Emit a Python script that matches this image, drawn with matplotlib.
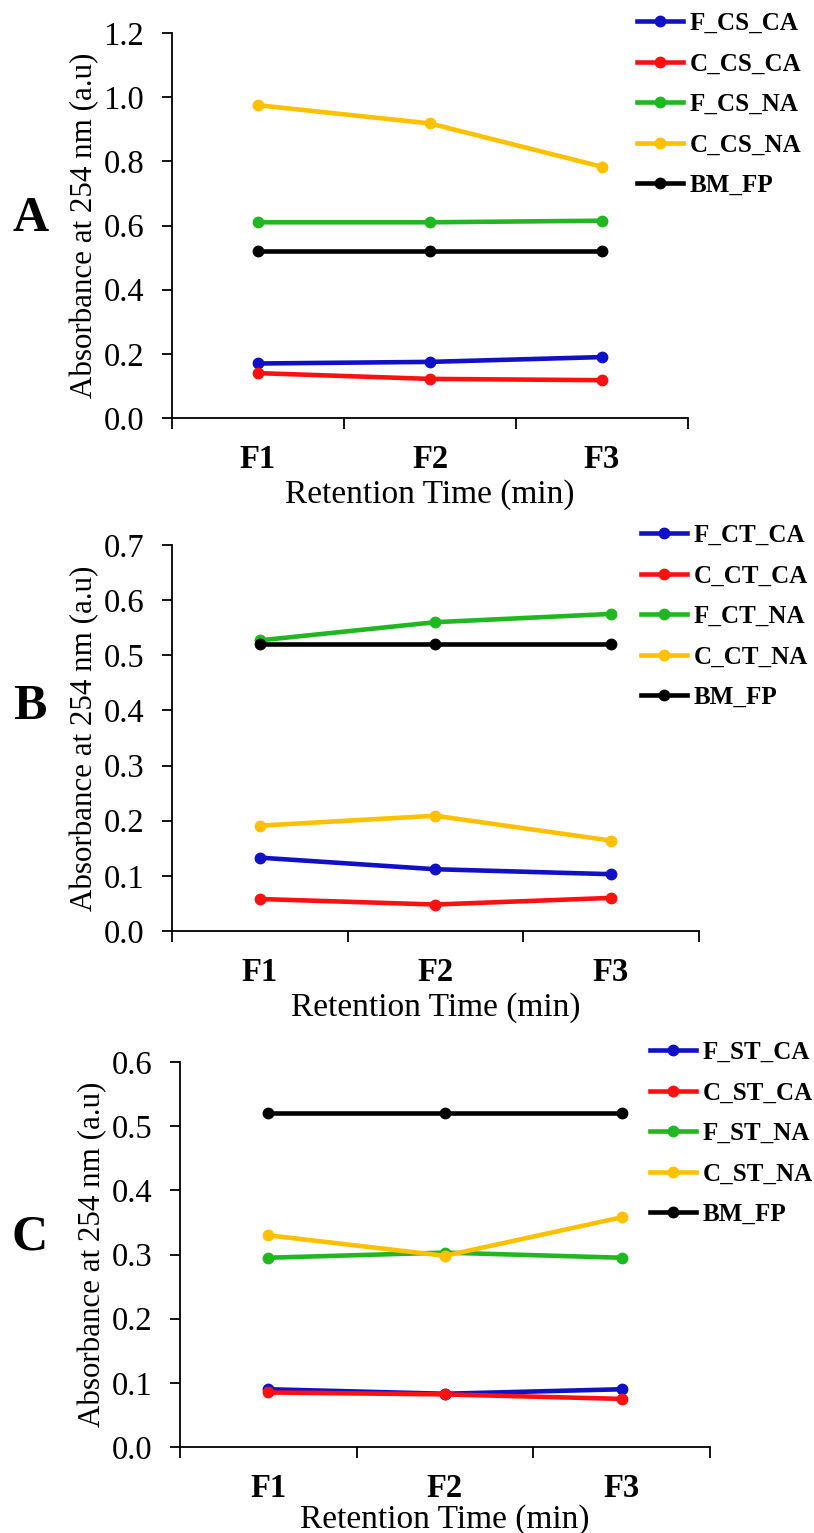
import numpy as np
import matplotlib.pyplot as plt

plt.rcParams['font.family'] = ['Liberation Serif', 'DejaVu Serif']

# data
fractions = ['F1', 'F2', 'F3']
bm_fp = [0.52, 0.52, 0.52]

# panel A (CS)
a_names = ['F_CS_CA', 'C_CS_CA', 'F_CS_NA', 'C_CS_NA', 'BM_FP']
a_f_ca = [0.170, 0.175, 0.190]
a_c_ca = [0.140, 0.122, 0.118]
a_f_na = [0.610, 0.610, 0.615]
a_c_na = [0.975, 0.918, 0.783]

# panel B (CT)
b_names = ['F_CT_CA', 'C_CT_CA', 'F_CT_NA', 'C_CT_NA', 'BM_FP']
b_f_ca = [0.133, 0.112, 0.103]
b_c_ca = [0.058, 0.048, 0.060]
b_f_na = [0.527, 0.560, 0.575]
b_c_na = [0.191, 0.209, 0.164]

# panel C (ST)
c_names = ['F_ST_CA', 'C_ST_CA', 'F_ST_NA', 'C_ST_NA', 'BM_FP']
c_f_ca = [0.090, 0.083, 0.090]
c_c_ca = [0.085, 0.082, 0.075]
c_f_na = [0.295, 0.303, 0.295]
c_c_na = [0.330, 0.298, 0.358]

colors = ['#1010C8', '#FF1010', '#20B820', '#FFC000', '#000000']

panels = [
    ('A', a_names, [a_f_ca, a_c_ca, a_f_na, a_c_na, bm_fp], 1.2, 0.2,
     [0.2113, 0.7273, 0.634, 0.2512], 0.857, 0.770, 0.9987, 2.5),
    ('B', b_names, [b_f_ca, b_c_ca, b_f_na, b_c_na, bm_fp], 0.7, 0.1,
     [0.2113, 0.3927, 0.647, 0.2518], 0.539, 0.775, 0.6647, 2.5),
    ('C', c_names, [c_f_ca, c_c_ca, c_f_na, c_c_na, bm_fp], 0.6, 0.1,
     [0.2211, 0.0561, 0.651, 0.2511], 0.193, 0.786, 0.3275, 0.0),
]

fig = plt.figure(figsize=(8.14, 15.33), dpi=100)
x = np.arange(len(fractions)) + 0.5

for letter, names, series, ymax, step, rect, ly, legx, legy, xpad in panels:
    ax = fig.add_axes(rect)
    for vals, name, col in zip(series, names, colors):
        ax.plot(x, vals, color=col, lw=3.3, marker='o', ms=7.5, label=name)
    ax.set_xlim(0, 3)
    ax.set_ylim(0, ymax)
    yt = np.arange(0, ymax + step / 2, step)
    ax.set_yticks(yt)
    ax.set_yticklabels(['%.1f' % v for v in yt])
    ax.set_xticks([0, 1, 2, 3])
    ax.set_xticklabels([])
    ax.set_xticks(x, minor=True)
    ax.set_xticklabels(fractions, minor=True, fontsize=23.5, fontweight='bold')
    ax.tick_params(axis='x', which='minor', length=0, pad=19)
    ax.tick_params(axis='x', which='major', direction='out', length=8, width=1.3)
    ax.tick_params(axis='y', direction='out', length=7, width=1.3, labelsize=23.5, pad=13)
    for s in ['top', 'right']:
        ax.spines[s].set_visible(False)
    for s in ['left', 'bottom']:
        ax.spines[s].set_linewidth(1.3)
    ax.set_xlabel('Retention Time (min)', fontsize=24, labelpad=xpad)
    ax.set_ylabel('Absorbance at 254 nm (a.u)', fontsize=22.3, labelpad=3)
    fig.text(0.037, ly, letter, fontsize=36, fontweight='bold', ha='center', va='center')
    ax.legend(loc='upper left', bbox_to_anchor=(legx, legy), bbox_transform=fig.transFigure,
              frameon=False, prop={'weight': 'bold', 'size': 18},
              handlelength=1.85, handletextpad=0.25, labelspacing=0.7, borderaxespad=0)

fig.savefig('out.png', dpi=100)
